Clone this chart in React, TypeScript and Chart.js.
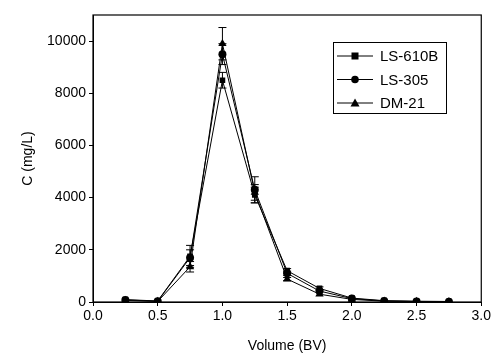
import React, { useEffect, useRef } from "react";
import { Chart, registerables } from "chart.js";

Chart.register(...registerables);

const volumes = [0.25, 0.5, 0.75, 1.0, 1.25, 1.5, 1.75, 2.0, 2.25, 2.5, 2.75];
const seriesNames = ["LS-610B", "LS-305", "DM-21"];
const ls610b = [90, 40, 1750, 8500, 4100, 1200, 520, 150, 50, 30, 20];
const ls305 = [80, 30, 1700, 9500, 4300, 1100, 420, 130, 40, 20, 10];
const dm21 = [60, 20, 1350, 9900, 4200, 880, 300, 100, 30, 20, 10];
const ls610bErr = [20, 10, 420, 300, 300, 80, 60, 30, 10, 10, 5];
const ls305Err = [20, 10, 300, 400, 500, 80, 50, 30, 10, 10, 5];
const dm21Err = [20, 10, 200, 620, 300, 60, 40, 20, 10, 10, 5];
const pointStyles = ["rect", "circle", "triangle"];
const yTicks = [0, 2000, 4000, 6000, 8000, 10000];
const xTicks = [0, 0.5, 1.0, 1.5, 2.0, 2.5, 3.0];

const FONT = "'Liberation Sans', Arial, sans-serif";

export default function App() {
  const ref = useRef<HTMLCanvasElement>(null);
  useEffect(() => {
    document.body.style.margin = "0";
    const values = [ls610b, ls305, dm21];
    const errs = [ls610bErr, ls305Err, dm21Err];
    const datasets = seriesNames.map((name, i) => ({
      label: name,
      data: volumes.map((v, j) => ({ x: v, y: values[i][j] })),
      borderColor: "#000",
      backgroundColor: "#000",
      borderWidth: 1,
      pointStyle: pointStyles[i],
      pointRadius: i === 2 ? 4.8 : 4,
      pointBorderWidth: 0,
      errors: errs[i],
    }));

    const framePlugin = {
      id: "frame",
      afterDatasetsDraw(chart: any) {
        const ctx = chart.ctx;
        const ys = chart.scales.y;
        const xs = chart.scales.x;
        ctx.save();
        ctx.strokeStyle = "#000";
        ctx.lineWidth = 1;
        chart.data.datasets.forEach((ds: any) => {
          ds.data.forEach((p: any, j: number) => {
            const e = ds.errors[j];
            const px = xs.getPixelForValue(p.x);
            const top = ys.getPixelForValue(p.y + e);
            const bot = ys.getPixelForValue(p.y - e);
            if (Math.abs(bot - top) < 3) return;
            ctx.beginPath();
            ctx.moveTo(px, top);
            ctx.lineTo(px, bot);
            ctx.moveTo(px - 4, top);
            ctx.lineTo(px + 4, top);
            ctx.moveTo(px - 4, bot);
            ctx.lineTo(px + 4, bot);
            ctx.stroke();
          });
        });
        const a = chart.chartArea;
        ctx.lineWidth = 1.2;
        ctx.strokeRect(a.left, a.top, a.right - a.left, a.bottom - a.top);
        // legend
        const lx = 333, ly = 42, lw = 113, lh = 71;
        ctx.fillStyle = "#fff";
        ctx.fillRect(lx, ly, lw, lh);
        ctx.lineWidth = 1;
        ctx.strokeRect(lx + 0.5, ly + 0.5, lw, lh);
        chart.data.datasets.forEach((ds: any, i: number) => {
          const y = ly + 14 + i * 23.5;
          ctx.beginPath();
          ctx.moveTo(lx + 4, y);
          ctx.lineTo(lx + 40, y);
          ctx.stroke();
          ctx.fillStyle = "#000";
          const cx = lx + 22;
          if (ds.pointStyle === "rect") {
            ctx.fillRect(cx - 3.5, y - 3.5, 7, 7);
          } else if (ds.pointStyle === "circle") {
            ctx.beginPath();
            ctx.arc(cx, y, 3.8, 0, Math.PI * 2);
            ctx.fill();
          } else {
            ctx.beginPath();
            ctx.moveTo(cx, y - 4.5);
            ctx.lineTo(cx + 4.5, y + 3.5);
            ctx.lineTo(cx - 4.5, y + 3.5);
            ctx.closePath();
            ctx.fill();
          }
          ctx.font = "15px " + FONT;
          ctx.textBaseline = "middle";
          ctx.textAlign = "left";
          ctx.fillText(ds.label, lx + 47, y + 1);
        });
        ctx.restore();
      },
    };

    const chart = new Chart(ref.current!, {
      type: "line",
      data: { datasets: datasets as any },
      options: {
        animation: false,
        responsive: false,
        layout: { padding: { top: 15, right: 11, left: 0, bottom: 0 } },
        plugins: { legend: { display: false }, tooltip: { enabled: false } },
        scales: {
          x: {
            type: "linear",
            min: 0,
            max: 3,
            afterBuildTicks: (s: any) => {
              s.ticks = xTicks.map((v) => ({ value: v }));
            },
            afterFit: (s: any) => {
              s.height = 53;
            },
            border: { color: "#000", width: 1 },
            grid: { display: true, drawOnChartArea: false, drawTicks: true, tickLength: 4, color: "#000" },
            ticks: {
              color: "#000",
              font: { size: 14, family: FONT },
              padding: 2,
              callback: (v: any) => Number(v).toFixed(1),
              maxRotation: 0,
            },
            title: {
              display: true,
              text: "Volume (BV)",
              color: "#000",
              font: { size: 14, family: FONT },
              padding: { top: 2, bottom: 0 },
            },
          },
          y: {
            min: 0,
            max: 11000,
            afterBuildTicks: (s: any) => {
              s.ticks = yTicks.map((v) => ({ value: v }));
            },
            afterFit: (s: any) => {
              s.width = 93;
            },
            border: { color: "#000", width: 1 },
            grid: { display: true, drawOnChartArea: false, drawTicks: true, tickLength: 4, color: "#000" },
            ticks: {
              color: "#000",
              font: { size: 14, family: FONT },
              padding: 3,
              callback: (v: any) => String(v),
            },
            title: {
              display: true,
              text: "C (mg/L)",
              color: "#000",
              font: { size: 14, family: FONT },
              padding: { top: 20, bottom: 0 },
            },
          },
        },
      },
      plugins: [framePlugin],
    });
    return () => chart.destroy();
  }, []);
  return (
    <div style={{ position: "absolute", left: 0, top: 0, width: 493, height: 355 }}>
      <canvas ref={ref} width={493} height={355} style={{ width: 493, height: 355 }} />
    </div>
  );
}
